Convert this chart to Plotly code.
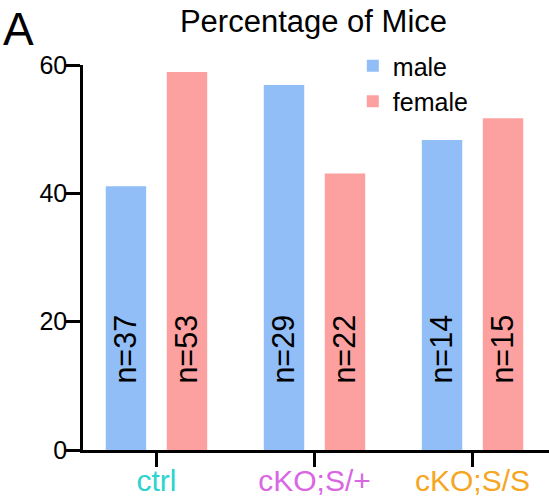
import plotly.graph_objects as go

# ---- data ----
categories = ["ctrl", "cKO;S/+", "cKO;S/S"]
category_colors = ["#2ED3CF", "#D966E3", "#F5A623"]
male_pct = [41.1, 56.9, 48.3]
female_pct = [58.9, 43.1, 51.7]
male_n = [37, 29, 14]
female_n = [53, 22, 15]
y_ticks = [0, 20, 40, 60]

# ---- styles ----
MALE_COLOR = "#92BEF7"
FEMALE_COLOR = "#FDA0A0"
FONT = "Arial, Liberation Sans, sans-serif"
LABEL_BAND = 31.4  # height of invisible band that centres the n= labels

tick_text = [f"<span style='color:{c}'>{t}</span>" for t, c in zip(categories, category_colors)]

fig = go.Figure()
fig.add_trace(go.Bar(x=categories, y=male_pct, name="male", marker_color=MALE_COLOR,
                     marker_line_width=0, offsetgroup="m"))
fig.add_trace(go.Bar(x=categories, y=[LABEL_BAND] * len(categories), offsetgroup="m",
                     text=[f"n={n}" for n in male_n], textposition="inside",
                     insidetextanchor="middle", textangle=-90,
                     textfont=dict(size=31, color="black", family=FONT),
                     marker_color="rgba(0,0,0,0)", marker_line_width=0,
                     showlegend=False, hoverinfo="skip"))
fig.add_trace(go.Bar(x=categories, y=female_pct, name="female", marker_color=FEMALE_COLOR,
                     marker_line_width=0, offsetgroup="f"))
fig.add_trace(go.Bar(x=categories, y=[LABEL_BAND] * len(categories), offsetgroup="f",
                     text=[f"n={n}" for n in female_n], textposition="inside",
                     insidetextanchor="middle", textangle=-90,
                     textfont=dict(size=31, color="black", family=FONT),
                     marker_color="rgba(0,0,0,0)", marker_line_width=0,
                     showlegend=False, hoverinfo="skip"))

fig.update_layout(
    width=549, height=499,
    margin=dict(l=83, r=0, t=65, b=49, autoexpand=False),
    paper_bgcolor="white", plot_bgcolor="white",
    font=dict(family=FONT, color="black"),
    barmode="group", bargap=0.228, bargroupgap=0.337,
    title=dict(text="Percentage of Mice", font=dict(size=31, color="black"),
               x=0.571, xanchor="center", y=0.958, yanchor="middle",
               xref="container", yref="container"),
    legend=dict(x=0.579, xanchor="left", y=1.057, yanchor="top",
                font=dict(size=25), bgcolor="rgba(0,0,0,0)", tracegroupgap=0,
                itemclick=False),
)
fig.update_xaxes(
    categoryorder="array", categoryarray=categories,
    tickvals=categories, ticktext=tick_text,
    range=[-0.465, 2.484], automargin=False,
    showline=True, linecolor="black", linewidth=2.5,
    ticks="outside", ticklen=14, tickwidth=2.5, tickcolor="black",
    tickfont=dict(size=30), showgrid=False, zeroline=False,
    ticklabelstandoff=-12,
)
fig.update_yaxes(
    range=[0, 60], tickvals=y_ticks, automargin=False,
    showline=True, linecolor="black", linewidth=2.5,
    ticks="outside", ticklen=15, tickwidth=2.5, tickcolor="black",
    tickfont=dict(size=25), showgrid=False, zeroline=False,
    ticklabelstandoff=-7,
)
fig.add_annotation(text="A", xref="paper", yref="paper", x=-0.176, y=1.167,
                   xanchor="left", yanchor="top", showarrow=False,
                   font=dict(size=46, color="black", family=FONT))

fig.write_html("out.html")
